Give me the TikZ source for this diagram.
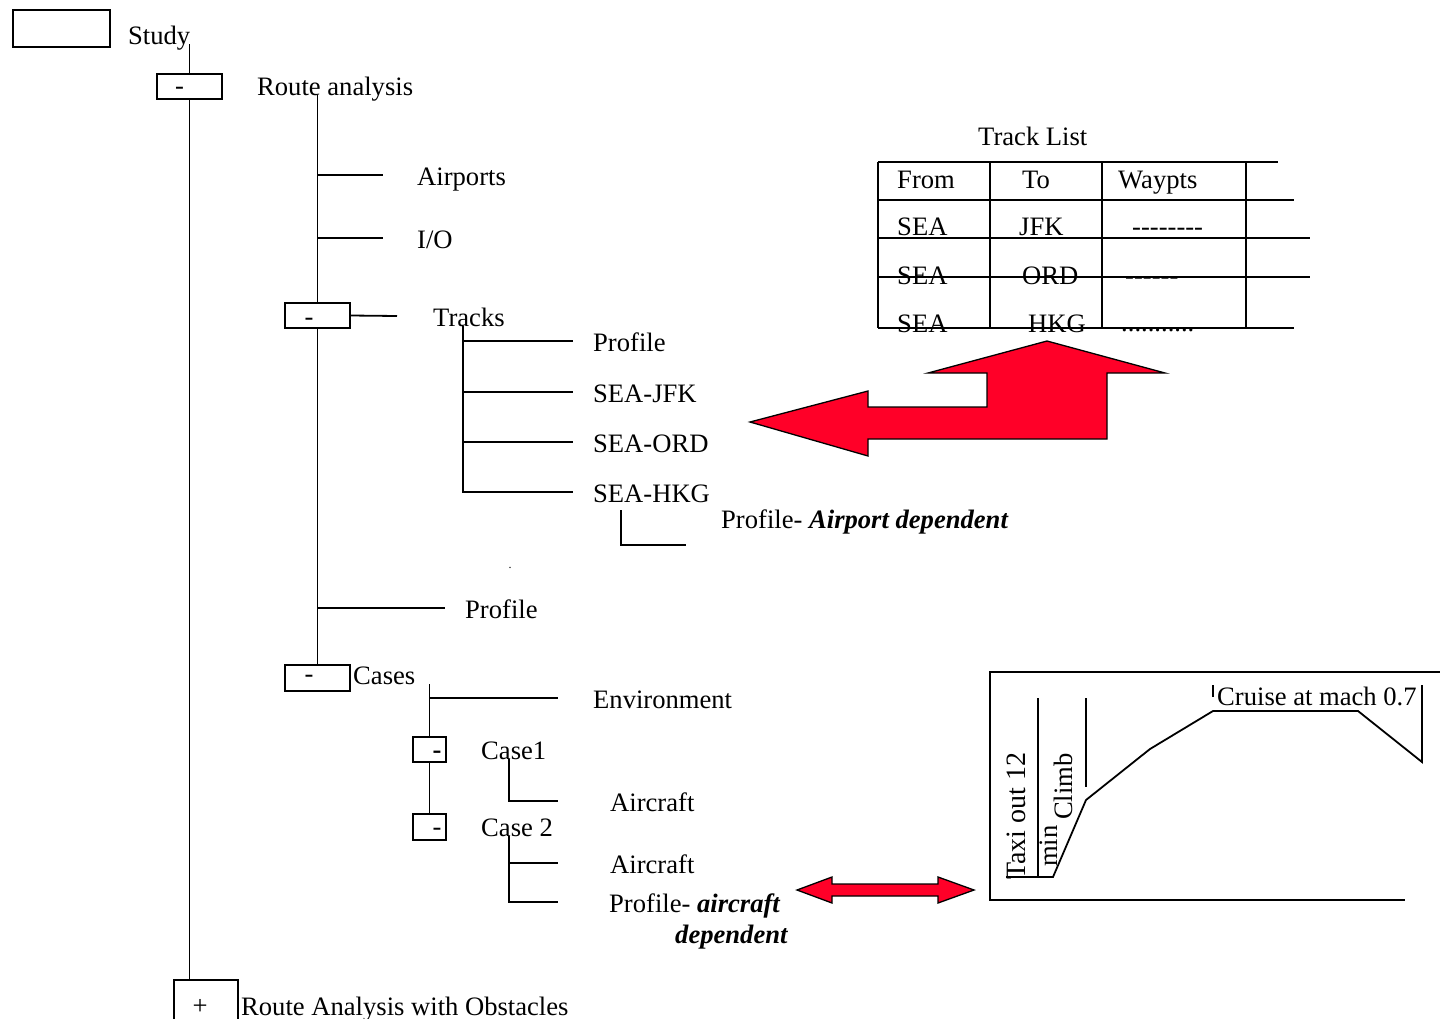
\documentclass[tikz,border=0pt]{standalone}
\usepackage{fontspec}
\setmainfont{Liberation Serif}
\usepackage{tikz}
\definecolor{arrowred}{RGB}{255,0,40}
\tikzset{
  tog/.style={draw, line width=1.6pt, inner sep=0pt, minimum height=25pt},
  sgn/.style={inner sep=0pt, anchor=base, font=\dfont},
  txt/.style={inner sep=0pt, anchor=base west, font=\dfont, text height=20pt, text depth=0pt},
  tree/.style={line width=1.8pt},
  grid/.style={line width=1.8pt},
  blk/.style={draw=black, line width=1.3pt, fill=arrowred, line join=miter},
}
\newcommand{\dfont}{\fontsize{26.6}{31}\selectfont}
\newcommand{\bi}[1]{\textbf{\textit{#1}}}

\begin{document}
\begin{tikzpicture}[x=1pt, y=-1pt]
  \useasboundingbox (0,0) rectangle (1440,1018);
  \clip (0,0) rectangle (1440,1018);

  % Study and its main branch
  \node[tog, minimum width=97pt, minimum height=37pt] (studybox) at (61.5,28.5) {};
  \node[txt] (study) at (128,44) {Study};
  \node[tog, minimum width=65pt] (rabox) at (189.5,86.5) {};
  \node[sgn] at (179.5,94) {-};
  \node[txt] (ra) at (257,95) {Route analysis};
  \node[tog, minimum width=64pt, minimum height=50pt] (obsbox) at (206,1005) {};
  \node[sgn] at (200,1014) {+};
  \node[txt] (obs) at (241,1015) {Route Analysis with Obstacles};

  % Route analysis children
  \node[txt] (airports) at (417,185) {Airports};
  \node[txt] (io)       at (417,248) {I/O};
  \node[tog, minimum width=65pt] (trkbox) at (317.5,315.5) {};
  \node[sgn] at (309,325) {-};
  \node[txt] (tracks)   at (433,326) {Tracks};
  \node[txt] (rprof)    at (465,618) {Profile};
  \node[tog, minimum width=65pt, minimum height=26pt] (casebox) at (317.5,678) {};
  \node[sgn] at (309,682) {-};
  \node[txt] (cases)    at (353,684) {Cases};

  % Tracks children
  \node[txt] (tprof) at (593,351) {Profile};
  \node[txt] (jfk)   at (593,402) {SEA-JFK};
  \node[txt] (ord)   at (593,452) {SEA-ORD};
  \node[txt] (hkg)   at (593,502) {SEA-HKG};
  \node[txt] (aprof) at (721,528) {Profile- \bi{Airport dependent}};
  \node[inner sep=0pt, font=\fontsize{12}{14}\selectfont] (dot) at (510,568) {.};

  % Cases children
  \node[txt] (env)   at (593,708) {Environment};
  \node[tog, minimum width=33pt] (c1box) at (429.5,749.5) {};
  \node[sgn, font=\dfont\bfseries] at (437,758) {-};
  \node[txt] (case1) at (481,759) {Case1};
  \node[txt] (air1)  at (610,811) {Aircraft};
  \node[tog, minimum width=33pt, minimum height=26pt] (c2box) at (429.5,827) {};
  \node[sgn] at (437,835) {-};
  \node[txt] (case2) at (481,836) {Case 2};
  \node[txt] (air2)  at (610,873) {Aircraft};
  \node[txt] (cprof) at (609,912) {Profile- \bi{aircraft}};
  \node[txt] (cdep)  at (675,943) {\bi{dependent}};

  % Tree lines
  \draw[tree] (rabox.north |- study.base) -- (rabox.north);
  \draw[tree] (rabox.south) -- (rabox.south |- obsbox.north);
  \draw[tree] (trkbox.north |- ra.base) -- (trkbox.north);
  \draw[tree] (trkbox.south) -- (casebox.north);
  \draw[tree] (trkbox.north |- airports.west) -- ([xshift=-34pt]airports.west);
  \draw[tree] (trkbox.north |- io.west) -- ([xshift=-34pt]io.west);
  \draw[tree] (trkbox.east) -- ([xshift=-36pt]tracks.west);
  \draw[tree] (trkbox.north |- rprof.west) -- ([xshift=-20pt]rprof.west);

  \coordinate (trk) at ([xshift=30pt]tracks.base west);
  \draw[tree] (trk) |- ([xshift=-20pt]hkg.west);
  \foreach \n in {tprof,jfk,ord}
    \draw[tree] (trk |- \n.west) -- ([xshift=-20pt]\n.west);
  \coordinate (hkgfoot) at ([xshift=28pt, yshift=-8pt]hkg.base west);
  \coordinate (hkgend) at (686,545);
  \draw[tree] (hkgfoot) |- (hkgend);

  \coordinate (cstop) at (c1box.north |- cases.base);
  \draw[tree] (cstop) -- (c1box.north);
  \draw[tree] (cstop |- env.west) -- ([xshift=-35pt]env.west);
  \draw[tree] (c1box.south) -- (c2box.north);
  \draw[tree] ([xshift=28pt]case1.base west) |- ([xshift=-52pt]air1.west);
  \coordinate (c2foot) at ([xshift=28pt]case2.base west);
  \draw[tree] (c2foot) |- ([xshift=-51pt]cprof.west);
  \draw[tree] (c2foot |- air2.west) -- ([xshift=-52pt]air2.west);

  % Track list table
  \node[txt] (tlist) at (978,145) {Track List};
  \draw[grid] (878,162) -- (1278,162);
  \draw[grid] (878,200) -- (1294,200);
  \draw[grid] (878,238) -- (1310,238);
  \draw[grid] (878,277) -- (1310,277);
  \draw[grid] (878,328) -- (1294,328);
  \foreach \x in {878,990,1102,1246}
    \draw[grid] (\x,162) -- (\x,328);
  \node[txt] (hfrom) at (897,188) {From};
  \node[txt] (hto)   at (1022,188) {To};
  \node[txt] (hwpt)  at (1118,188) {Waypts};
  \node[txt] (f1) at (897,235) {SEA};
  \node[txt] (t1) at (1019,235) {JFK};
  \node[txt] (w1) at (1132,235) {-{}-{}-{}-{}-{}-{}-{}-};
  \node[txt] (f2) at (897,284) {SEA};
  \node[txt] (t2) at (1022,284) {ORD};
  \node[txt] (w2) at (1125,284) {-{}-{}-{}-{}-{}-};
  \node[txt] (f3) at (897,332) {SEA};
  \node[txt] (t3) at (1028,332) {HKG};
  \node[txt] (w3) at (1121,331) {...........};

  % Block arrows
  \draw[blk] (750,422) -- (868,391) -- (868,407) -- (987,407) -- (987,373)
    -- (928,373) -- (1047,341) -- (1165,373) -- (1107,373) -- (1107,439)
    -- (868,439) -- (868,456) -- cycle;
  \draw[blk] (797,890) -- (832,877) -- (832,884) -- (938,884) -- (938,877)
    -- (974,890) -- (938,903) -- (938,896) -- (832,896) -- (832,903) -- cycle;

  % Flight profile
  \draw[grid] (1440,672) -- (990,672) -- (990,900) -- (1405,900);
  \draw[grid] (1006,877) -- (1053,877) -- (1086,800) -- (1150,749) -- (1213,711)
    -- (1358,711) -- (1422,762) -- (1422,685);
  \draw[grid] (1038,698) -- (1038,877);
  \draw[grid] (1086,698) -- (1086,787);
  \draw[grid] (1213,685) -- (1213,697);
  \node[txt, rotate=90, font=\fontsize{28}{32}\selectfont] (taxi) at (1025,880) {Taxi out 12};
  \node[txt, rotate=90] (tmin)  at (1057,867) {min};
  \node[txt, rotate=90] (climb) at (1072,820) {Climb};
  \node[txt] (cruise) at (1217,705) {Cruise at mach 0.7};

\end{tikzpicture}
\end{document}
